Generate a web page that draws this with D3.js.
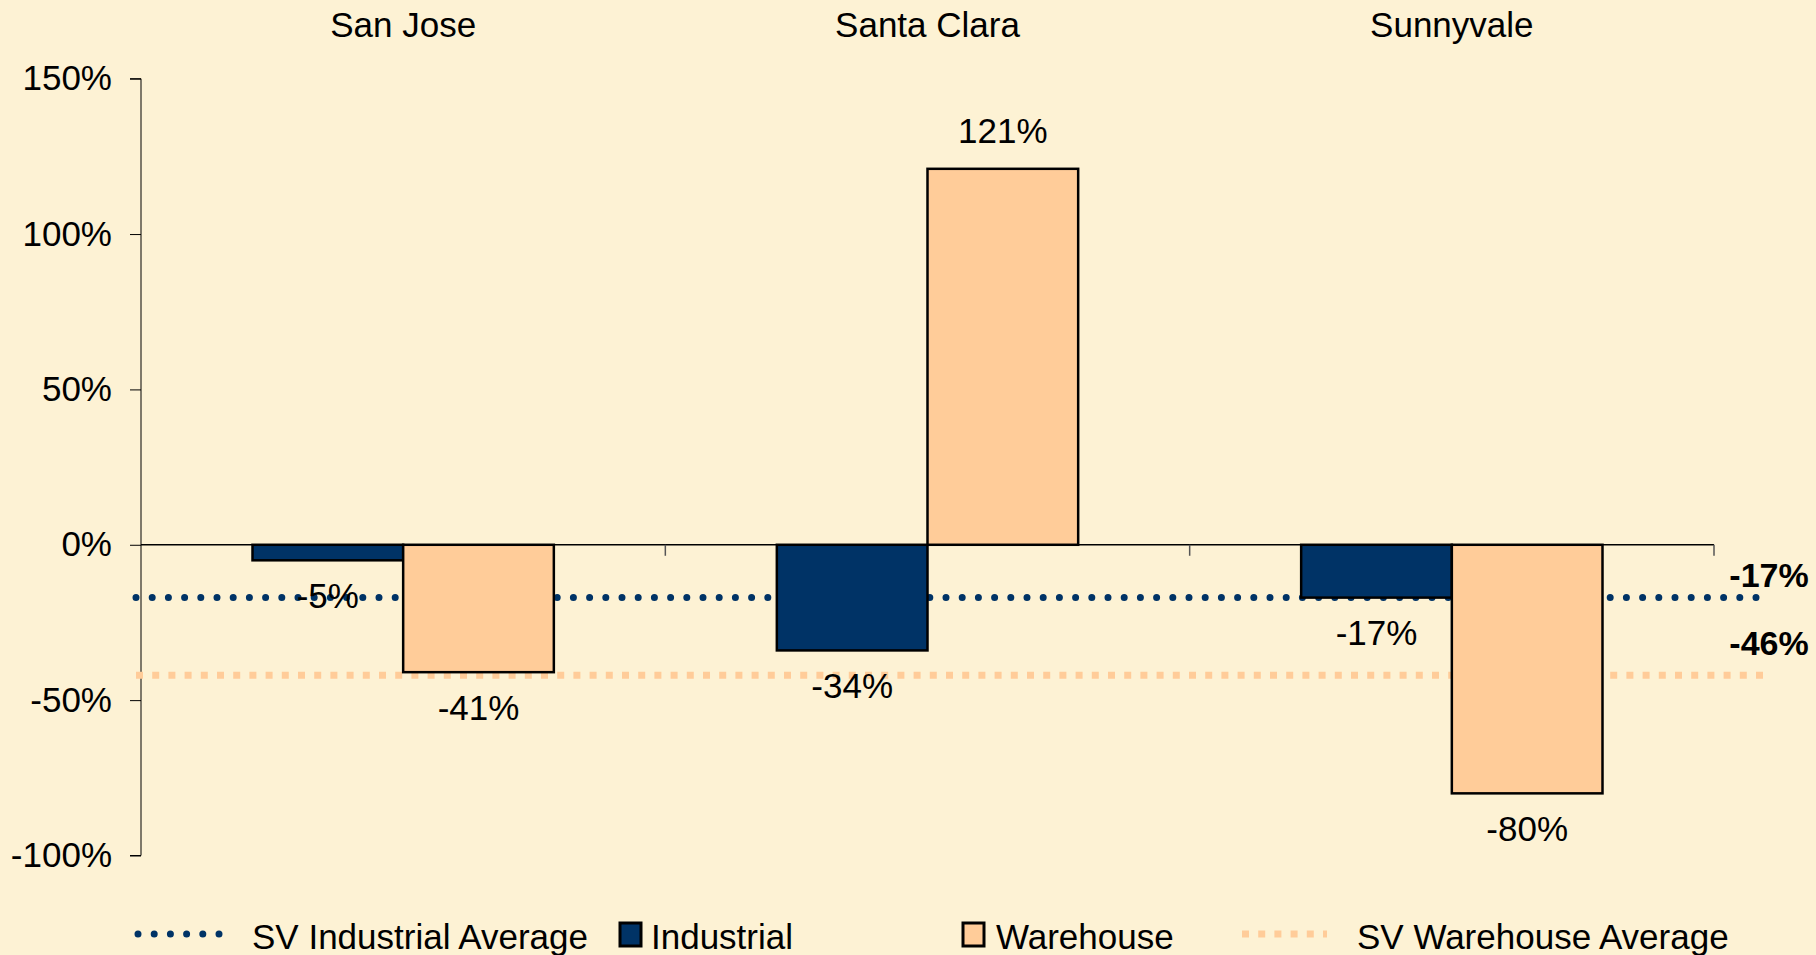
<!DOCTYPE html>
<html>
<head>
<meta charset="utf-8">
<script src="https://cdn.jsdelivr.net/npm/d3@7"></script>
<style>
  html, body { margin: 0; padding: 0; background: #fdf2d4; }
  svg { display: block; font-family: "Liberation Sans", Arial, sans-serif; }
</style>
</head>
<body>
<svg id="chart" width="1816" height="955"></svg>
<script>
// chart values
var cities = ["San Jose", "Santa Clara", "Sunnyvale"];
var seriesNames = ["Industrial", "Warehouse"];
var industrial = [-5, -34, -17];
var warehouse = [-41, 121, -80];
var avgNames = ["SV Industrial Average", "SV Warehouse Average"];
var avgValues = [-17, -42];
var avgLabels = ["-17%", "-46%"];
var yTicks = [-100, -50, 0, 50, 100, 150];

var colors = { Industrial: "#003366", Warehouse: "#ffcc99" };

var svg = d3.select("#chart"),
  g = svg.append("g");

var x0 = d3.scaleBand().domain(cities).range([141, 1714]).paddingInner(0).paddingOuter(0),
  x1 = d3.scaleBand().domain(seriesNames).range([0, x0.bandwidth()]).paddingInner(0).paddingOuter(0.74),
  y = d3.scaleLinear().domain([-100, 150]).range([855.5, 78.7]);

var rows = cities.map(function(c, i){
  return { city: c, values: [
    { key: "Industrial", value: industrial[i] },
    { key: "Warehouse", value: warehouse[i] }
  ]};
});

// y axis
var yAxis = g.append("g")
  .attr("transform", "translate(141,0)")
  .call(d3.axisLeft(y).tickValues(yTicks).tickSize(11).tickPadding(18).tickFormat(function(d){ return d + "%"; }));
yAxis.selectAll("text").attr("font-size", 35).attr("fill", "#000").attr("font-family", "Liberation Sans, Arial, sans-serif");
yAxis.selectAll("line, path").attr("stroke", "#000");
yAxis.select("path").attr("d", "M-11," + y(150) + "H0V" + y(-100) + "H-11");

// average lines (under the bars)
var avgStyle = [
  { color: "#003366", width: 7, dash: "0 16.2", cap: "round" },
  { color: "#ffcc99", width: 7, dash: "7 9.2", cap: "butt" }
];
g.append("g").selectAll("line")
  .data(avgValues)
  .enter()
  .append("line")
  .attr("x1", 136).attr("x2", 1764)
  .attr("y1", function(d){ return y(d); })
  .attr("y2", function(d){ return y(d); })
  .attr("stroke", function(d, i){ return avgStyle[i].color; })
  .attr("stroke-width", function(d, i){ return avgStyle[i].width; })
  .attr("stroke-dasharray", function(d, i){ return avgStyle[i].dash; })
  .attr("stroke-linecap", function(d, i){ return avgStyle[i].cap; });

// x axis at zero
var xAxis = g.append("g");
xAxis.append("line")
  .attr("x1", x0.range()[0]).attr("x2", x0.range()[1])
  .attr("y1", y(0)).attr("y2", y(0))
  .attr("stroke", "#000").attr("stroke-width", 1.5);
xAxis.selectAll(".tick")
  .data(cities)
  .enter()
  .append("line")
  .attr("x1", function(d){ return x0(d) + x0.bandwidth(); })
  .attr("x2", function(d){ return x0(d) + x0.bandwidth(); })
  .attr("y1", y(0)).attr("y2", y(0) + 11)
  .attr("stroke", "#555").attr("stroke-width", 1.5);

// bars
var groups = g.append("g").selectAll("g")
  .data(rows)
  .enter()
  .append("g")
  .attr("transform", function(d){ return "translate(" + x0(d.city) + ",0)"; });

groups.selectAll("rect")
  .data(function(d){ return d.values; })
  .enter()
  .append("rect")
  .attr("x", function(d){ return x1(d.key); })
  .attr("width", x1.bandwidth())
  .attr("y", function(d){ return y(Math.max(0, d.value)); })
  .attr("height", function(d){ return Math.abs(y(d.value) - y(0)); })
  .attr("fill", function(d){ return colors[d.key]; })
  .attr("stroke", "#000")
  .attr("stroke-width", 2.5);

groups.selectAll("text")
  .data(function(d){ return d.values; })
  .enter()
  .append("text")
  .attr("x", function(d){ return x1(d.key) + x1.bandwidth() / 2; })
  .attr("y", function(d){ return d.value < 0 ? y(d.value) + 35 : y(d.value) - 38; })
  .attr("text-anchor", "middle")
  .attr("dominant-baseline", "central")
  .attr("font-size", 35)
  .text(function(d){ return d.value + "%"; });

// city labels on top
g.append("g").selectAll("text")
  .data(cities)
  .enter()
  .append("text")
  .attr("x", function(d){ return x0(d) + x0.bandwidth() / 2; })
  .attr("y", 24)
  .attr("text-anchor", "middle")
  .attr("dominant-baseline", "central")
  .attr("font-size", 35)
  .text(function(d){ return d; });

// average labels on the right
g.append("g").selectAll("text")
  .data(avgLabels)
  .enter()
  .append("text")
  .attr("x", 1769)
  .attr("y", function(d, i){ return [575, 643][i]; })
  .attr("text-anchor", "middle")
  .attr("dominant-baseline", "central")
  .attr("font-size", 34)
  .attr("font-weight", "bold")
  .text(function(d){ return d; });

// legend
var legendY = 936;
var legend = g.append("g");
var legendItems = [
  { type: "line", style: avgStyle[0], x: 135, tx: 252, label: avgNames[0] },
  { type: "box", color: colors.Industrial, x: 620, tx: 651, label: seriesNames[0] },
  { type: "box", color: colors.Warehouse, x: 963, tx: 996, label: seriesNames[1] },
  { type: "line", style: avgStyle[1], x: 1239, tx: 1357, label: avgNames[1] }
];
legendItems.forEach(function(it){
  if (it.type === "line") {
    legend.append("line")
      .attr("x1", it.x + 3).attr("x2", it.x + 88)
      .attr("y1", legendY - 2).attr("y2", legendY - 2)
      .attr("stroke", it.style.color)
      .attr("stroke-width", it.style.width)
      .attr("stroke-dasharray", it.style.dash)
      .attr("stroke-linecap", it.style.cap);
  } else {
    legend.append("rect")
      .attr("x", it.x).attr("y", legendY - 13)
      .attr("width", 21).attr("height", 23)
      .attr("fill", it.color).attr("stroke", "#000").attr("stroke-width", 3);
  }
  legend.append("text")
    .attr("x", it.tx).attr("y", legendY)
    .attr("dominant-baseline", "central")
    .attr("font-size", 35)
    .text(it.label);
});
</script>
</body>
</html>
